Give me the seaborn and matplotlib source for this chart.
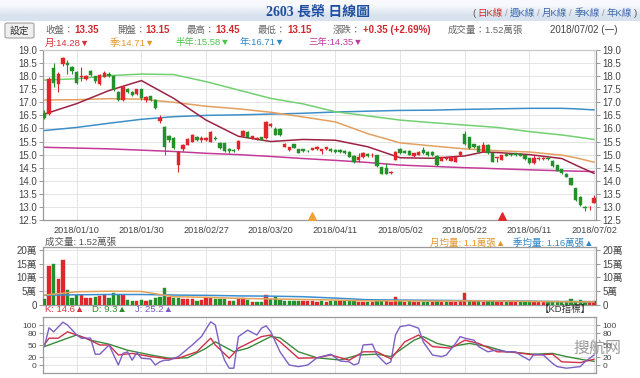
import matplotlib
matplotlib.use("Agg")
import matplotlib.pyplot as plt
import seaborn as sns
import numpy as np
from matplotlib.patches import FancyBboxPatch

# ---------------- data ----------------
DATE_POS = [7, 21, 35, 49, 63, 77, 91, 105, 119]
DATE_LABELS = ["2018/01/10", "2018/01/30", "2018/02/27", "2018/03/20", "2018/04/11",
               "2018/05/02", "2018/05/22", "2018/06/11", "2018/07/02"]

OPEN = [16.60, 16.55, 18.30, 17.70, 18.45, 18.52, 18.35, 18.15, 17.95, 17.90,
        18.20, 18.00, 17.70, 17.98, 18.10, 18.00, 17.40, 17.10, 17.50, 17.38,
        17.30, 17.50, 17.10, 17.24, 17.10, 16.30, 16.05, 15.70, 15.65, 14.60,
        15.20, 15.38, 15.50, 15.68, 15.55, 15.55, 15.50, 15.65, 15.45, 15.43,
        15.22, 15.18, 15.20, 15.70, 15.88, 15.62, 15.59, 15.66, 15.62, 16.08,
        15.98, 15.97, 15.30, 15.18, 15.39, 15.20, 15.20, 15.15, 15.18, 15.20,
        15.12, 15.20, 15.21, 15.19, 15.18, 15.15, 15.11, 14.95, 14.80, 14.90,
        15.02, 14.97, 14.98, 14.51, 14.47, 14.30, 14.80, 15.20, 15.15, 15.15,
        14.95, 15.00, 15.18, 15.11, 15.11, 14.95, 14.77, 14.82, 14.77, 14.73,
        14.98, 15.80, 15.66, 15.40, 15.33, 15.11, 15.37, 15.05, 14.86, 14.80,
        15.02, 15.00, 15.05, 15.02, 14.98, 14.86, 14.67, 14.82, 14.82, 14.87,
        14.77, 14.60, 14.44, 14.26, 14.09, 13.71, 13.39, 13.00, 12.98, 13.15]
CLOSE = [16.40, 17.90, 17.75, 18.10, 18.70, 18.43, 18.20, 17.75, 18.00, 18.00,
         18.05, 17.80, 18.05, 18.12, 18.00, 17.50, 17.10, 17.60, 17.40, 17.28,
         17.50, 17.15, 17.20, 17.10, 16.80, 16.40, 15.30, 15.55, 15.25, 15.10,
         15.35, 15.58, 15.75, 15.56, 15.65, 15.65, 15.88, 15.58, 15.25, 15.12,
         15.13, 15.12, 15.53, 15.92, 15.67, 15.70, 15.65, 15.57, 16.25, 16.17,
         15.76, 15.75, 15.40, 15.28, 15.27, 15.06, 15.12, 15.12, 15.24, 15.30,
         15.20, 15.28, 15.12, 15.10, 15.10, 15.05, 14.92, 14.70, 14.92, 15.05,
         14.95, 15.00, 14.56, 14.26, 14.26, 14.32, 15.10, 15.05, 15.08, 14.99,
         15.05, 15.10, 15.05, 14.98, 14.98, 14.60, 14.90, 14.86, 14.90, 14.92,
         15.11, 15.40, 15.24, 15.28, 15.11, 15.37, 15.05, 14.73, 14.90, 14.98,
         14.96, 14.98, 14.98, 14.95, 14.82, 14.67, 14.86, 14.86, 14.86, 14.82,
         14.56, 14.39, 14.28, 14.16, 13.84, 13.26, 13.07, 12.97, 13.00, 13.35]
HIGH = [16.70, 17.95, 18.50, 18.15, 18.75, 18.60, 18.40, 18.20, 18.35, 18.05,
        18.25, 18.02, 18.10, 18.20, 18.15, 18.05, 17.45, 17.65, 17.55, 17.42,
        17.52, 17.52, 17.25, 17.26, 17.12, 16.50, 16.10, 15.75, 15.68, 15.15,
        15.40, 15.62, 15.80, 15.70, 15.70, 15.68, 15.90, 15.70, 15.50, 15.45,
        15.25, 15.22, 15.55, 15.95, 15.90, 15.72, 15.68, 15.68, 16.30, 16.22,
        16.05, 16.00, 15.45, 15.30, 15.42, 15.22, 15.22, 15.18, 15.26, 15.32,
        15.22, 15.30, 15.24, 15.22, 15.20, 15.17, 15.13, 14.97, 15.05, 15.10,
        15.05, 15.05, 15.00, 14.53, 14.68, 14.38, 15.12, 15.25, 15.18, 15.18,
        15.08, 15.12, 15.30, 15.13, 15.13, 14.97, 14.92, 14.90, 14.92, 14.95,
        15.13, 15.92, 15.68, 15.42, 15.35, 15.50, 15.39, 15.07, 14.92, 15.00,
        15.04, 15.02, 15.07, 15.05, 15.00, 14.88, 14.98, 14.90, 14.90, 14.90,
        14.79, 14.62, 14.46, 14.28, 14.11, 13.73, 13.41, 13.02, 13.05, 13.45]
LOW = [16.35, 16.50, 17.60, 17.40, 18.40, 18.10, 18.10, 17.70, 17.80, 17.85,
       18.00, 17.75, 17.65, 17.95, 17.95, 17.45, 17.05, 17.05, 17.35, 17.25,
       17.28, 17.10, 17.00, 17.05, 16.75, 16.20, 15.00, 15.50, 15.20, 14.35,
       15.15, 15.35, 15.48, 15.52, 15.50, 15.52, 15.48, 15.55, 15.20, 15.10,
       15.05, 15.10, 15.18, 15.68, 15.65, 15.60, 15.57, 15.55, 15.60, 16.05,
       15.74, 15.72, 15.28, 15.15, 15.25, 15.05, 15.10, 15.10, 15.16, 15.18,
       15.02, 15.18, 15.10, 15.08, 15.08, 15.03, 14.90, 14.68, 14.70, 14.88,
       14.92, 14.92, 14.54, 14.24, 14.24, 14.24, 14.78, 15.03, 15.05, 14.97,
       14.92, 14.98, 15.03, 14.96, 14.96, 14.55, 14.75, 14.78, 14.75, 14.70,
       14.95, 15.38, 15.22, 15.25, 15.08, 15.09, 15.02, 14.70, 14.70, 14.78,
       14.94, 14.96, 14.95, 14.93, 14.80, 14.65, 14.65, 14.80, 14.80, 14.80,
       14.54, 14.37, 14.26, 14.14, 13.82, 13.24, 13.05, 12.85, 12.90, 13.15]
VOLUME = [2.1, 14.3, 14.9, 9.5, 16.3, 5.4, 2.6, 3.6, 3.8, 2.4,
          2.4, 3.0, 3.3, 3.6, 2.4, 4.5, 3.6, 3.6, 1.8, 1.4,
          1.5, 1.8, 1.4, 1.8, 2.4, 3.0, 6.0, 3.0, 2.4, 2.4,
          2.0, 2.0, 2.1, 1.5, 1.8, 2.4, 2.6, 2.1, 2.1, 2.1,
          1.5, 1.5, 2.4, 2.4, 1.8, 1.2, 1.1, 1.2, 3.6, 2.0,
          3.0, 1.8, 1.5, 1.4, 1.5, 1.6, 1.6, 1.5, 1.4, 1.2,
          1.3, 1.2, 1.5, 1.4, 1.3, 1.5, 1.4, 1.6, 1.2, 1.2,
          1.0, 1.0, 1.8, 1.6, 1.5, 1.2, 3.0, 1.6, 1.2, 1.4,
          1.1, 1.2, 1.2, 1.1, 1.1, 1.3, 1.0, 1.0, 1.1, 1.1,
          1.4, 4.5, 1.6, 1.3, 1.3, 1.2, 1.3, 1.4, 1.0, 1.1,
          1.1, 1.0, 1.0, 1.1, 1.1, 1.3, 1.0, 1.0, 1.0, 1.0,
          1.2, 1.3, 1.2, 1.4, 2.0, 1.6, 1.9, 1.5, 1.6, 1.52]

MA_IDX = [0, 7, 14, 21, 28, 35, 42, 49, 56, 63, 70, 77, 84, 91, 95, 98, 105, 112, 115, 119]
MA_MONTH = [16.55, 16.95, 17.45, 17.83, 17.15, 16.32, 15.70, 15.50, 15.58, 15.55,
            15.30, 14.88, 14.86, 14.95, 15.10, 15.08, 15.00, 14.85, 14.60, 14.28]
MA_QUARTER = [17.09, 17.10, 17.14, 17.12, 17.00, 16.85, 16.75, 16.62, 16.44, 16.25,
              15.80, 15.45, 15.33, 15.22, 15.18, 15.15, 15.10, 14.98, 14.88, 14.71]
MA_HALF = [17.85, 17.90, 18.02, 18.08, 18.06, 17.79, 17.47, 17.15, 16.94, 16.64,
           16.48, 16.32, 16.22, 16.13, 16.08, 16.04, 15.88, 15.75, 15.68, 15.58]
MA_YEAR = [15.92, 16.04, 16.20, 16.35, 16.45, 16.50, 16.52, 16.55, 16.58, 16.63,
           16.66, 16.69, 16.70, 16.73, 16.74, 16.75, 16.77, 16.77, 16.75, 16.71]
MA_3YEAR = [15.28, 15.25, 15.22, 15.17, 15.12, 15.05, 15.00, 14.93, 14.85, 14.78,
            14.70, 14.60, 14.55, 14.50, 14.48, 14.46, 14.42, 14.38, 14.37, 14.35]
VOL_MA_MONTH = [3.6, 4.8, 5.0, 4.9, 3.0, 2.8, 2.4, 2.2, 2.0, 1.8,
                1.5, 1.5, 1.4, 1.5, 1.5, 1.5, 1.3, 1.2, 1.15, 1.1]
VOL_MA_QUARTER = [3.5, 3.7, 3.8, 3.8, 3.6, 3.5, 3.3, 3.2, 3.0, 2.5,
                  1.9, 1.8, 1.7, 1.6, 1.55, 1.5, 1.4, 1.25, 1.2, 1.16]

K_IDX = [0, 1, 3, 5, 7, 9, 12, 14, 16, 19, 23, 27, 29, 33, 36, 37, 40, 42, 47, 49,
         51, 55, 59, 62, 66, 69, 72, 75, 78, 81, 84, 88, 91, 94, 98, 101, 106, 110, 112, 116, 119]
K_VAL = [51, 67, 67, 83, 75, 67, 50, 50, 25, 29, 21, 15, 17, 33, 67, 50, 17, 42, 71, 75,
         58, 17, 18, 25, 12, 33, 33, 15, 58, 75, 46, 42, 62, 54, 33, 33, 25, 27, 8, 6, 14.6]
D_IDX = [0, 5, 7, 10, 14, 18, 23, 27, 31, 35, 37, 41, 44, 49, 51, 55, 59, 64, 68, 72,
         75, 80, 82, 85, 88, 92, 96, 100, 106, 110, 113, 117, 119]
D_VAL = [46, 67, 75, 62, 52, 37, 25, 17, 18, 42, 58, 33, 42, 71, 68, 33, 18, 12.5, 25, 27,
         21, 62, 71, 54, 46, 54, 46, 33, 27, 29, 21, 12.5, 9.3]
J_IDX = [0, 1, 2, 4, 5, 7, 8, 10, 11, 12, 14, 16, 17, 18, 19, 20, 21, 23, 24, 25,
         26, 27, 28, 29, 32, 34, 35, 36, 37, 38, 39, 40, 41, 42, 44, 46, 47, 48, 49, 51,
         53, 55, 57, 59, 62, 64, 66, 67, 68, 69, 71, 72, 74, 75, 76, 77, 79, 81, 82, 84,
         86, 87, 89, 90, 91, 93, 94, 96, 98, 100, 102, 103, 105, 106, 108, 110, 111, 113, 116, 117, 119]
J_VAL = [46, 93, 83, 107, 100, 75, 67, 67, 27, 27, 50, 0, 29, 33, 12, 31, 17, 15, 0, 8,
         12, 12, 17, 21, 50, 71, 90, 108, 100, 46, 12, -8, -8, 71, 87, 75, 92, 98, 83, 33,
         0, -4, 0, 18, 27, 10, 8, 0, 4, 50, 52, 25, 2, 8, 75, 96, 100, 92, 58, 25,
         21, 25, 54, 71, 67, 62, 46, 33, 38, 33, 33, 25, 12, 27, 25, 4, -4, -8, -4, 8, 25.2]

EVENT_IDX = [58, 99]
EVENT_COLORS = ["#f0a035", "#e0262a"]

# ---------------- style ----------------
sns.set_theme(style="whitegrid")
FONTS = ["Liberation Sans", "Noto Sans CJK TC", "DejaVu Sans"]
plt.rcParams["font.family"] = FONTS
plt.rcParams["axes.unicode_minus"] = False

RED = "#e0262a"
GREEN = "#24902a"
GRID = "#e4e4e4"
SPINE = "#9a9a9a"
TXT = "#555555"

W, H = 640.0, 378.0
fig = plt.figure(figsize=(6.4, 3.78), dpi=100)
fig.patch.set_facecolor("white")
renderer = fig.canvas.get_renderer()


def box(l, t, r, b):
    return [l / W, 1 - b / H, (r - l) / W, (b - t) / H]


def label(px, py, s, color=TXT, size=7, weight="normal", ha="left", family=FONTS, **kw):
    return fig.text(px / W, 1 - py / H, s, color=color, fontsize=size, fontweight=weight,
                    ha=ha, va="center", family=family, **kw)


def chain(px, py, pieces, size=7, gap=1.5):
    # lay several coloured text pieces one after another
    x = px
    for s, col in pieces:
        t = label(x, py, s, color=col, size=size)
        x += t.get_window_extent(renderer=renderer).width + gap


def style_axes(ax, labelsize=7):
    ax.set_facecolor("white")
    ax.grid(True, color=GRID, lw=0.7)
    for side in ["left", "right", "bottom", "top"]:
        ax.spines[side].set_visible(True)
        ax.spines[side].set_color(SPINE)
        ax.spines[side].set_linewidth(0.9)
    ax.tick_params(axis="y", which="both", left=True, right=True, labelleft=True,
                   labelright=True, length=3, width=0.7, color=SPINE, labelsize=labelsize,
                   labelcolor="#444444", pad=1.5)
    ax.set_xlim(-0.3, 119.4)
    ax.set_xticks(DATE_POS)


# ---------------- header ----------------
ax_h = fig.add_axes([0, 1 - 21 / H, 1, 21 / H])
ax_h.imshow([[0.0], [1.0]], aspect="auto", cmap=matplotlib.colors.LinearSegmentedColormap.from_list(
    "hdr", ["#f7f9fc", "#d8e2ee"]), interpolation="bilinear", extent=[0, 1, 0, 1])
ax_h.axis("off")

label(318, 12, "2603 長榮 日線圖", color="#1f4fa0", size=10, weight="bold", ha="center",
      family=["Liberation Serif", "Noto Sans CJK TC"])
LINK = "#3a66b0"
SEP = "#9a9a9a"
chain(472, 13, [("(", "#555555"), ("日K線", "#d42a2a"), ("/", SEP), ("週K線", LINK), ("/", SEP),
                ("月K線", LINK), ("/", SEP), ("季K線", LINK), ("/", SEP), ("年K線", LINK),
                (")", "#555555")], size=6.8, gap=2.2)

btn = FancyBboxPatch((5 / W, 1 - 38 / H), 29 / W, 15 / H, boxstyle="round,pad=0,rounding_size=0.004",
                     transform=fig.transFigure, facecolor="#efefef", edgecolor="#a0a0a0", lw=0.8)
fig.patches.append(btn)
label(19.5, 30.5, "設定", color="#333333", size=7, ha="center")

VAL = "#d0282e"
for x_lab, x_val, name, val in [(45, 74, "收盤：", "13.35"), (117, 145, "開盤：", "13.15"),
                                (187, 215, "最高：", "13.45"), (258, 287, "最低：", "13.15"),
                                (333, 363, "漲跌：", "+0.35 (+2.69%)")]:
    label(x_lab, 30, name, color="#666666", size=6.8)
    label(x_val, 30, val, color=VAL, size=7, weight="bold")
label(448, 30, "成交量：1.52萬張", color="#666666", size=6.8)
label(550, 30, "2018/07/02 (一)", color="#444444", size=7)

for x, s, c in [(45, "月:14.28▼", "#d6303a"), (110, "季:14.71▼", "#e8962e"),
                (176, "半年:15.58▼", "#4cc34c"), (240, "年:16.71▼", "#2f86c6"),
                (308, "三年:14.35▼", "#c23a9e")]:
    label(x, 43, s, color=c, size=6.8)

# ---------------- price panel ----------------
ax_p = fig.add_axes(box(43, 50, 596, 220))
style_axes(ax_p)
idx = np.arange(len(OPEN))
o, c, h, l = map(np.array, (OPEN, CLOSE, HIGH, LOW))
cols = np.where(c >= o, RED, GREEN)
ax_p.vlines(idx, l, h, colors=cols, lw=0.8, zorder=3)
body = np.maximum(np.abs(c - o), 0.025)
ax_p.bar(idx, body, bottom=np.minimum(o, c), width=0.72, color=cols, edgecolor=cols,
         lw=0.3, zorder=4)

for vals, colr in [(MA_YEAR, "#3d8fc9"), (MA_3YEAR, "#c43a98"), (MA_HALF, "#72d072"),
                   (MA_QUARTER, "#e3a060"), (MA_MONTH, "#9b2343")]:
    sns.lineplot(x=MA_IDX, y=vals, ax=ax_p, color=colr, lw=1.1, sort=False,
                 estimator=None, zorder=2)

for ei, ec in zip(EVENT_IDX, EVENT_COLORS):
    ax_p.scatter([ei], [12.64], marker="^", s=28, color=ec, zorder=5, clip_on=False)

ax_p.set_ylim(12.5, 19.0)
yt = np.arange(12.5, 19.01, 0.5)
ax_p.set_yticks(yt)
ax_p.set_yticklabels([f"{v:.1f}" for v in yt])
ax_p.set_xticklabels(DATE_LABELS)
ax_p.tick_params(axis="x", length=2, color=SPINE, labelsize=6.6, labelcolor="#444444", pad=2)
ax_p.spines["top"].set_color("#c8c8c8")

# ---------------- volume panel ----------------
ax_v = fig.add_axes(box(43, 247, 596, 305))
style_axes(ax_v)
prev = np.concatenate([[OPEN[0]], c[:-1]])
vcols = np.where(c >= prev, RED, GREEN)
ax_v.bar(idx, VOLUME, width=0.72, color=vcols, edgecolor=vcols, lw=0.3, zorder=3)
sns.lineplot(x=MA_IDX, y=VOL_MA_QUARTER, ax=ax_v, color="#3b8fd0", lw=1.1, sort=False,
             estimator=None, zorder=4)
sns.lineplot(x=MA_IDX, y=VOL_MA_MONTH, ax=ax_v, color="#e3a25a", lw=1.1, sort=False,
             estimator=None, zorder=5)
ax_v.set_ylim(0, 21)
ax_v.set_yticks([0, 5, 10, 15, 20])
ax_v.set_yticklabels(["0", "5萬", "10萬", "15萬", "20萬"])
ax_v.tick_params(axis="x", labelbottom=False, length=0)
label(45, 242, "成交量: 1.52萬張", color="#555555", size=6.8)
label(430, 243, "月均量: 1.1萬張▲", color="#e0962e", size=6.8)
label(513, 243, "季均量: 1.16萬張▲", color="#2f86c6", size=6.8)

# ---------------- KD panel ----------------
ax_k = fig.add_axes(box(43, 317, 596, 373))
style_axes(ax_k, labelsize=6.0)
sns.lineplot(x=D_IDX, y=D_VAL, ax=ax_k, color="#3a8a3a", lw=1.0, sort=False, estimator=None)
sns.lineplot(x=K_IDX, y=K_VAL, ax=ax_k, color="#d0304a", lw=1.0, sort=False, estimator=None)
sns.lineplot(x=J_IDX, y=J_VAL, ax=ax_k, color="#7d5fc4", lw=1.0, sort=False, estimator=None)
ax_k.set_ylim(-20, 120)
ax_k.set_yticks([0, 20, 50, 80, 100])
ax_k.set_yticklabels(["0", "20", "50", "80", "100"])
ax_k.tick_params(axis="x", labelbottom=False, length=0)
label(45, 310, "K: 14.6▲", color="#d6303a", size=6.8)
label(92, 310, "D: 9.3▲", color="#2a8c2a", size=6.8)
label(135, 310, "J: 25.2▲", color="#7a5cc0", size=6.8)
label(591, 309, "【KD指標】", color="#333333", size=6.8, ha="right")

# watermark (sits over the right-hand KD labels, as in the source image)
label(597, 348, "搜航网", color="#8a8a8a", size=11.5, ha="center", alpha=0.85)

for a in (ax_p, ax_v, ax_k):
    a.set_xlabel("")
    a.set_ylabel("")

fig.savefig("out.png", dpi=100)
